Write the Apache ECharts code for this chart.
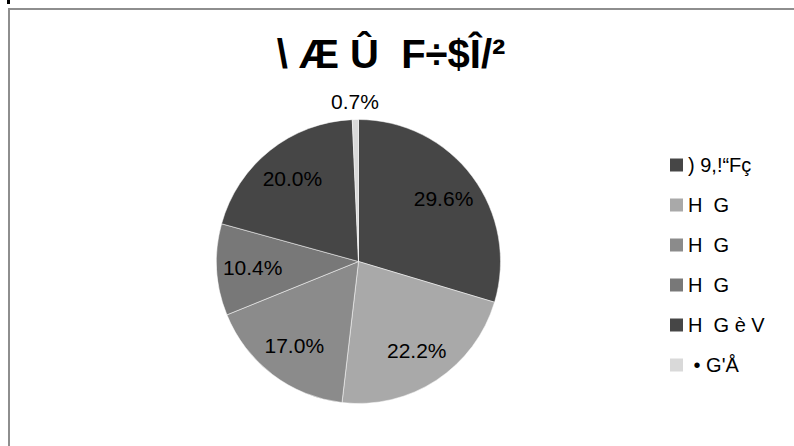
<!DOCTYPE html>
<html>
<head>
<meta charset="utf-8">
<script src="https://cdn.jsdelivr.net/npm/echarts@6/dist/echarts.min.js"></script>
<style>
  html, body { margin: 0; padding: 0; background: #ffffff; }
  #chart { width: 794px; height: 446px; }
</style>
</head>
<body>
<div id="chart"></div>
<script>
const titleText = "\\ Æ Û  F÷$Î/²";
const legendLabels = [") 9,!“Fç", "H  G", "H  G", "H  G", "H  G è V", " • G'Å"];
const values = [29.6, 22.2, 17.0, 10.4, 20.0, 0.7];
const colors = ["#464646", "#a9a9a9", "#8b8b8b", "#787878", "#464646", "#d9d9d9"];

const ids = values.map((v, i) => "item" + i);
const fmt = p => values[p.dataIndex].toFixed(1) + "%";
const FONT = "'Liberation Sans', Arial, sans-serif";
const CENTER = [358.5, 261.5];

const mainData = values.map((v, i) => ({
  name: ids[i], value: v, itemStyle: { color: colors[i] }
}));
const innerLabelData = values.map((v, i) => ({
  name: ids[i], value: v,
  label: { show: i !== 5 }
}));
const outerLabelData = values.map((v, i) => ({
  name: ids[i], value: v,
  label: { show: i === 5 }
}));

const chart = echarts.init(document.getElementById('chart'), null, { renderer: 'svg' });
chart.setOption({
  animation: false,
  backgroundColor: '#ffffff',
  color: colors,
  graphic: [
    { type: 'rect', silent: true, shape: { x: 9, y: 9, width: 800, height: 460 },
      style: { fill: 'none', stroke: '#8e8e8e', lineWidth: 2 } },
    { type: 'rect', silent: true, shape: { x: 7, y: 0, width: 3, height: 4 },
      style: { fill: '#000000' } },
    { type: 'text', silent: true, x: 391, y: 54,
      style: { text: titleText, fill: '#000000', align: 'center', verticalAlign: 'middle',
               font: "bold 40px 'Liberation Sans', Arial, sans-serif" } }
  ],
  legend: {
    orient: 'vertical',
    left: 670,
    top: 155,
    padding: 0,
    icon: 'rect',
    itemWidth: 13,
    itemHeight: 13,
    itemGap: 20,
    itemStyle: { borderWidth: 0 },
    data: ids,
    formatter: name => legendLabels[ids.indexOf(name)],
    textStyle: { fontFamily: FONT, fontSize: 20, color: '#000000', lineHeight: 20 },
    selectedMode: false
  },
  series: [
    {
      type: 'pie', center: CENTER, radius: [0, 142], startAngle: 90, clockwise: true,
      silent: true, avoidLabelOverlap: false,
      itemStyle: { borderColor: '#ffffff', borderWidth: 0.5 },
      label: { show: false }, labelLine: { show: false },
      data: mainData
    },
    {
      type: 'pie', center: CENTER, radius: [64, 142], startAngle: 90, clockwise: true,
      silent: true, avoidLabelOverlap: false, legendHoverLink: false,
      itemStyle: { color: 'rgba(0,0,0,0)', borderWidth: 0 },
      label: { show: true, position: 'inside', formatter: fmt,
               fontFamily: FONT, fontSize: 21, color: '#000000' },
      labelLine: { show: false },
      data: innerLabelData
    },
    {
      type: 'pie', center: CENTER, radius: [142, 172], startAngle: 90, clockwise: true,
      silent: true, avoidLabelOverlap: false, legendHoverLink: false,
      itemStyle: { color: 'rgba(0,0,0,0)', borderWidth: 0 },
      label: { show: false, position: 'inside', formatter: fmt,
               fontFamily: FONT, fontSize: 21, color: '#000000' },
      labelLine: { show: false },
      data: outerLabelData
    }
  ]
});
</script>
</body>
</html>
